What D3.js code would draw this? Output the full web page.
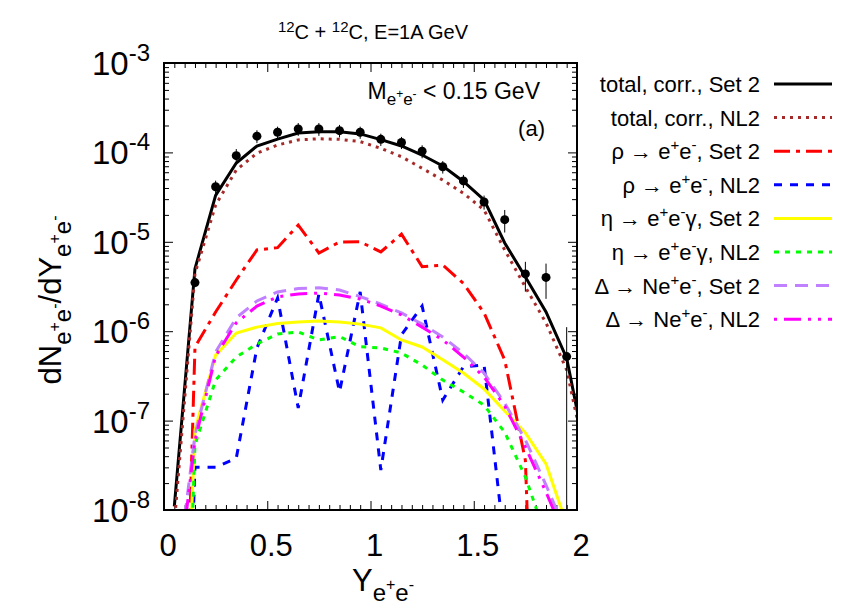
<!DOCTYPE html>
<html>
<head>
<meta charset="utf-8">
<script src="https://cdn.jsdelivr.net/npm/d3@7"></script>
<style>
  body { margin: 0; background: #fff; }
  svg { display: block; }
  text { font-family: "Liberation Sans", Arial, Helvetica, sans-serif; fill: #000; }
</style>
</head>
<body>
<svg id="chart" width="851" height="616"></svg>
<script>
// Rapidity grid of the model curves (bin centres)
const rapidity = [0.05, 0.15, 0.25, 0.35, 0.45, 0.55, 0.65, 0.75, 0.85, 0.95, 1.05,
                  1.15, 1.25, 1.35, 1.45, 1.55, 1.65, 1.75, 1.85, 1.95, 2.05];

// Model curves dN/dY
const totalSet2 = [1.1e-8, 5.0e-6, 3.3e-5, 7.6e-5, 1.18e-4, 1.41e-4, 1.65e-4, 1.70e-4, 1.70e-4, 1.61e-4, 1.39e-4,
                   1.18e-4, 9.35e-5, 7.05e-5, 4.73e-5, 2.94e-5, 9.7e-6, 4.04e-6, 1.64e-6, 5.0e-7, 3.5e-8];
const totalNL2  = [7e-9, 4.4e-6, 2.58e-5, 6.35e-5, 9.8e-5, 1.21e-4, 1.38e-4, 1.42e-4, 1.40e-4, 1.32e-4, 1.11e-4,
                   8.95e-5, 6.64e-5, 4.9e-5, 3.49e-5, 2.27e-5, 8.1e-6, 3.12e-6, 1.24e-6, 3.68e-7, 3.1e-8];
const rhoSet2   = [1e-14, 6.65e-7, 1.64e-6, 3.74e-6, 8.1e-6, 8.6e-6, 1.54e-5, 7.5e-6, 9.95e-6, 1.0e-5, 7.7e-6,
                   1.22e-5, 5.27e-6, 5.5e-6, 3.43e-6, 1.6e-6, 4.76e-7, 3.6e-8, 1e-14, 1e-14, 1e-14];
const rhoNL2    = [1e-14, 3.0e-8, 3.0e-8, 3.8e-8, 6.5e-7, 2.35e-6, 1.38e-7, 2.6e-6, 2.1e-7, 2.75e-6, 2.8e-8,
                   9.1e-7, 1.91e-6, 1.7e-7, 4.0e-7, 4.2e-7, 4e-9, 1e-14, 1e-14, 1e-14, 1e-14];
const etaSet2   = [2e-13, 7.9e-8, 5.4e-7, 9.55e-7, 1.11e-6, 1.22e-6, 1.27e-6, 1.30e-6, 1.27e-6, 1.2e-6, 1.09e-6,
                   7.98e-7, 6.66e-7, 4.8e-7, 3.4e-7, 2.26e-7, 1.28e-7, 7.3e-8, 3.27e-8, 6.9e-9, 1e-14];
const etaNL2    = [1e-14, 5.33e-8, 2.84e-7, 5.14e-7, 7.2e-7, 9.3e-7, 9.8e-7, 8.0e-7, 8.7e-7, 6.7e-7, 6.5e-7,
                   5.7e-7, 4.19e-7, 2.84e-7, 2.09e-7, 1.49e-7, 7.4e-8, 2.34e-8, 5.0e-9, 1e-14, 1e-14];
const deltaSet2 = [1e-9, 6.9e-8, 5.85e-7, 1.41e-6, 2.18e-6, 2.75e-6, 3.0e-6, 3.06e-6, 2.89e-6, 2.44e-6, 2.01e-6,
                   1.6e-6, 1.2e-6, 8.6e-7, 5.7e-7, 3.4e-7, 1.57e-7, 6.07e-8, 1.9e-8, 5.5e-9, 1e-14];
const deltaNL2  = [7e-10, 6.0e-8, 5.28e-7, 1.24e-6, 1.91e-6, 2.42e-6, 2.61e-6, 2.67e-6, 2.54e-6, 2.29e-6, 1.91e-6,
                   1.52e-6, 1.11e-6, 7.98e-7, 5.14e-7, 3.07e-7, 1.46e-7, 5.07e-8, 1.58e-8, 4.6e-9, 1e-14];

// Measured yield with statistical errors
const dataRapidity = [0.15, 0.25, 0.35, 0.45, 0.55, 0.65, 0.75, 0.85, 0.95, 1.05,
                      1.15, 1.25, 1.35, 1.45, 1.55, 1.65, 1.75, 1.85, 1.95];
const dataYield = [3.5e-6, 4.13e-5, 9.2e-5, 1.52e-4, 1.68e-4, 1.83e-4, 1.83e-4, 1.75e-4, 1.68e-4, 1.40e-4,
                   1.29e-4, 1.03e-4, 6.9e-5, 4.8e-5, 2.79e-5, 1.77e-5, 4.37e-6, 4.0e-6, 5.2e-7];
const dataError = [0.4e-6, 7e-6, 1.7e-5, 2.5e-5, 2.6e-5, 3.0e-5, 3.0e-5, 2.8e-5, 2.6e-5, 2.2e-5,
                   2.0e-5, 1.7e-5, 1.1e-5, 8e-6, 5e-6, 5e-6, 1.6e-6, 1.7e-6, 5.9e-7];

const xTicks = [0, 0.5, 1, 1.5, 2];
const xTickLabels = ["0", "0.5", "1", "1.5", "2"];
const yTickExponents = [-3, -4, -5, -6, -7, -8];

const legendLabels = [
  [["total, corr., Set 2"]],
  [["total, corr., NL2"]],
  [["ρ → e"], ["+", "sup"], ["e"], ["-", "sup"], [", Set 2"]],
  [["ρ → e"], ["+", "sup"], ["e"], ["-", "sup"], [", NL2"]],
  [["η → e"], ["+", "sup"], ["e"], ["-", "sup"], ["γ, Set 2"]],
  [["η → e"], ["+", "sup"], ["e"], ["-", "sup"], ["γ, NL2"]],
  [["Δ → Ne"], ["+", "sup"], ["e"], ["-", "sup"], [", Set 2"]],
  [["Δ → Ne"], ["+", "sup"], ["e"], ["-", "sup"], [", NL2"]]
];

const series = [
  { values: totalSet2, color: "#000000", dash: null,               width: 3 },
  { values: totalNL2,  color: "#a52a2a", dash: "3,5",              width: 3 },
  { values: rhoSet2,   color: "#ff0000", dash: "16,6,4,6",         width: 3 },
  { values: rhoNL2,    color: "#0000ff", dash: "8,8",              width: 3 },
  { values: etaSet2,   color: "#ffff00", dash: null,               width: 3 },
  { values: etaNL2,    color: "#00ff00", dash: "5,6",              width: 3 },
  { values: deltaSet2, color: "#c080ff", dash: "13,8",             width: 3 },
  { values: deltaNL2,  color: "#ff00ff", dash: "3,7,17,7,3,7",     width: 3 }
];

const svg = d3.select("#chart");
const plot = { left: 164, right: 577, top: 63, bottom: 510 };

const x = d3.scaleLinear().domain([0, 2]).range([plot.left, plot.right]);
const y = d3.scaleLog().domain([1e-8, 1e-3]).range([plot.bottom, plot.top]);

// Appends runs of normal / raised / lowered text to a <text> element.
// Each run: [string, fontSize, baselineOffset] (offset negative = raised)
function runs(sel, parts) {
  let shift = 0;
  parts.forEach(([str, size, off]) => {
    sel.append("tspan").attr("font-size", size).attr("dy", off - shift).text(str);
    shift = off;
  });
}

svg.append("defs").append("clipPath").attr("id", "plotClip")
  .append("rect")
  .attr("x", plot.left).attr("y", plot.top)
  .attr("width", plot.right - plot.left).attr("height", plot.bottom - plot.top);

// Minor and major ticks on all four sides, pointing inward
const majorY = yTickExponents.map(e => Math.pow(10, e));
const minorY = [];
for (let e = -8; e < -3; e++) for (let m = 2; m <= 9; m++) minorY.push(m * Math.pow(10, e));
const minorX = d3.range(0, 41).map(i => i * 0.05).filter(v => !xTicks.some(t => Math.abs(t - v) < 1e-9));

function tickAxis(axisFn, scale, values, size, transform) {
  const g = svg.append("g")
    .attr("transform", transform)
    .call(axisFn(scale).tickValues(values).tickSize(size).tickFormat(""));
  g.select(".domain").remove();
  g.selectAll(".tick line").attr("stroke", "#000").attr("stroke-width", 1);
}
tickAxis(d3.axisBottom, x, xTicks, -9, `translate(0,${plot.bottom})`);
tickAxis(d3.axisBottom, x, minorX, -5, `translate(0,${plot.bottom})`);
tickAxis(d3.axisTop, x, xTicks, -9, `translate(0,${plot.top})`);
tickAxis(d3.axisTop, x, minorX, -5, `translate(0,${plot.top})`);
tickAxis(d3.axisLeft, y, majorY, -9, `translate(${plot.left},0)`);
tickAxis(d3.axisLeft, y, minorY, -5, `translate(${plot.left},0)`);
tickAxis(d3.axisRight, y, majorY, -9, `translate(${plot.right},0)`);
tickAxis(d3.axisRight, y, minorY, -5, `translate(${plot.right},0)`);

// Model curves
const line = d3.line()
  .x((d, i) => x(rapidity[i]))
  .y(d => y(d));

const curves = svg.append("g").attr("clip-path", "url(#plotClip)");
series.forEach(s => {
  curves.append("path")
    .attr("d", line(s.values))
    .attr("fill", "none")
    .attr("stroke", s.color)
    .attr("stroke-width", s.width)
    .attr("stroke-dasharray", s.dash)
    .attr("stroke-linejoin", "miter");
});

// Data points with error bars
const pts = svg.append("g").attr("clip-path", "url(#plotClip)");
dataRapidity.forEach((r, i) => {
  const lo = dataYield[i] - dataError[i];
  const hi = dataYield[i] + dataError[i];
  pts.append("line")
    .attr("x1", x(r)).attr("x2", x(r))
    .attr("y1", lo > 0 ? y(lo) : plot.bottom + 5)
    .attr("y2", y(hi))
    .attr("stroke", "#000").attr("stroke-width", 1);
  pts.append("circle")
    .attr("cx", x(r)).attr("cy", y(dataYield[i]))
    .attr("r", 4.5).attr("fill", "#000");
});

// Frame
svg.append("rect")
  .attr("x", plot.left).attr("y", plot.top)
  .attr("width", plot.right - plot.left).attr("height", plot.bottom - plot.top)
  .attr("fill", "none").attr("stroke", "#000").attr("stroke-width", 2);

// Tick labels
xTicks.forEach((t, i) => {
  svg.append("text")
    .attr("x", x(t) + 4).attr("y", plot.bottom + 46)
    .attr("text-anchor", "middle").attr("font-size", 31)
    .text(xTickLabels[i]);
});
yTickExponents.forEach(e => {
  const t = svg.append("text")
    .attr("x", 150).attr("y", y(Math.pow(10, e)) + 12)
    .attr("text-anchor", "end");
  runs(t, [["10", 33, 0], [String(e), 24, -14]]);
});

// Axis titles
const xt = svg.append("text").attr("x", 383).attr("y", 591).attr("text-anchor", "middle");
runs(xt, [["Y", 31, 0], ["e", 24, 10], ["+", 16, -1], ["e", 24, 10], ["-", 16, -1]]);

const yt = svg.append("text")
  .attr("transform", "translate(61,300) rotate(-90)")
  .attr("text-anchor", "middle");
runs(yt, [["dN", 31, 0], ["e", 24, 10], ["+", 16, -1], ["e", 24, 10], ["-", 16, -1],
          ["/dY", 31, 0], ["e", 24, 10], ["+", 16, -1], ["e", 24, 10], ["-", 16, -1]]);

// Title
const title = svg.append("text").attr("x", 373).attr("y", 39).attr("text-anchor", "middle");
runs(title, [["12", 15, -7], ["C + ", 20, 0], ["12", 15, -7], ["C, E=1A GeV", 20, 0]]);

// Cut annotation and panel tag
const cut = svg.append("text").attr("x", 540).attr("y", 99).attr("text-anchor", "end");
runs(cut, [["M", 23, 0], ["e", 17, 6], ["+", 12, -1], ["e", 17, 6], ["-", 12, -1], [" < 0.15 GeV", 23, 0]]);

svg.append("text").attr("x", 545).attr("y", 136).attr("text-anchor", "end")
  .attr("font-size", 22).text("(a)");

// Legend
const legendTop = 84, legendStep = 33.6;
legendLabels.forEach((parts, i) => {
  const cy = legendTop + i * legendStep;
  const t = svg.append("text").attr("x", 760).attr("y", cy + 8).attr("text-anchor", "end");
  runs(t, parts.map(([str, mode]) => mode === "sup" ? [str, 15, -9] : [str, 22, 0]));
  const s = series[i];
  svg.append("line")
    .attr("x1", 774).attr("x2", 832).attr("y1", cy).attr("y2", cy)
    .attr("stroke", s.color).attr("stroke-width", s.width)
    .attr("stroke-dasharray", s.dash);
});
</script>
</body>
</html>
